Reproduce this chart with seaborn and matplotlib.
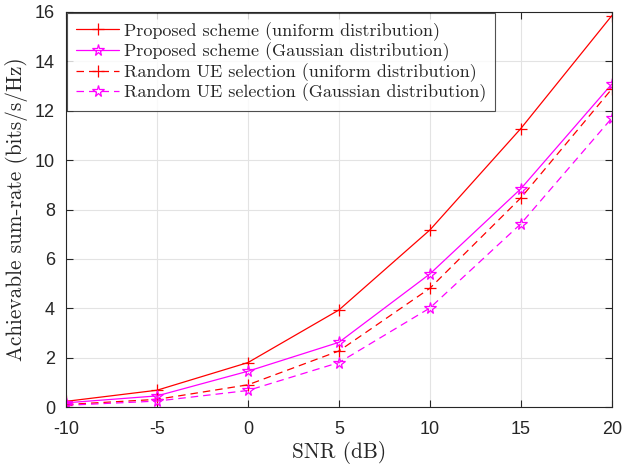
import matplotlib
matplotlib.use("Agg")
import matplotlib.pyplot as plt
import seaborn as sns
import numpy as np

snr = [-10, -5, 0, 5, 10, 15, 20]
prop_uniform = [0.23, 0.68, 1.80, 3.93, 7.17, 11.28, 15.85]
prop_gauss = [0.17, 0.45, 1.45, 2.62, 5.39, 8.84, 13.08]
rand_uniform = [0.10, 0.31, 0.90, 2.27, 4.81, 8.47, 12.88]
rand_gauss = [0.07, 0.24, 0.67, 1.80, 4.01, 7.42, 11.70]

labels = ["Proposed scheme (uniform distribution)",
          "Proposed scheme (Gaussian distribution)",
          "Random UE selection (uniform distribution)",
          "Random UE selection (Gaussian distribution)"]
xticks = [-10, -5, 0, 5, 10, 15, 20]
yticks = [0, 2, 4, 6, 8, 10, 12, 14, 16]

sns.set_style("whitegrid")
plt.rcParams['axes.unicode_minus'] = False

fig = plt.figure(figsize=(6.23, 4.70), dpi=100)
ax = fig.add_axes([0.106, 0.134, 0.876, 0.8405])

styles = [
    (prop_uniform, '#FF0000', '-', '+', 8),
    (prop_gauss, '#FF00FF', '-', '*', 8.5),
    (rand_uniform, '#FF0000', (0, (6, 4)), '+', 8),
    (rand_gauss, '#FF00FF', (0, (6, 4)), '*', 8.5),
]
for (vals, col, ls, mk, ms), lab in zip(styles, labels):
    sns.lineplot(x=snr, y=vals, ax=ax, color=col, linestyle=ls, marker=mk,
                 markersize=ms, markeredgecolor=col, markerfacecolor='none',
                 markeredgewidth=0.9, linewidth=0.9, label=lab)

ax.set_xlim(-10, 20)
ax.set_ylim(0, 16)
ax.set_xticks(xticks)
ax.set_yticks(yticks)
ax.set_xticklabels([str(t) for t in xticks], fontsize=13, family='Liberation Sans')
ax.set_yticklabels([str(t) for t in yticks], fontsize=13, family='Liberation Sans')
ax.tick_params(direction='in', length=5, width=0.8, colors='#262626',
               top=True, right=True, bottom=True, left=True)
ax.tick_params(axis='x', pad=10)
ax.tick_params(axis='y', pad=8)
ax.grid(True, color='#E3E3E3', linewidth=0.8)
for s in ax.spines.values():
    s.set_color('#262626')
    s.set_linewidth(0.8)

ax.set_xlabel("SNR (dB)", fontsize=15.3, family='cmr10', labelpad=2)
ax.set_ylabel("Achievable sum-rate (bits/s/Hz)", fontsize=15.3, family='cmr10', labelpad=5)

leg = ax.legend(loc='upper left', prop={'family': 'cmr10', 'size': 13},
                frameon=True, fancybox=False, edgecolor='#262626',
                borderaxespad=0.05, handlelength=2.4, handletextpad=0.25,
                labelspacing=0.1, borderpad=0.5)
leg.get_frame().set_linewidth(0.8)

fig.savefig("out.png", dpi=100)
